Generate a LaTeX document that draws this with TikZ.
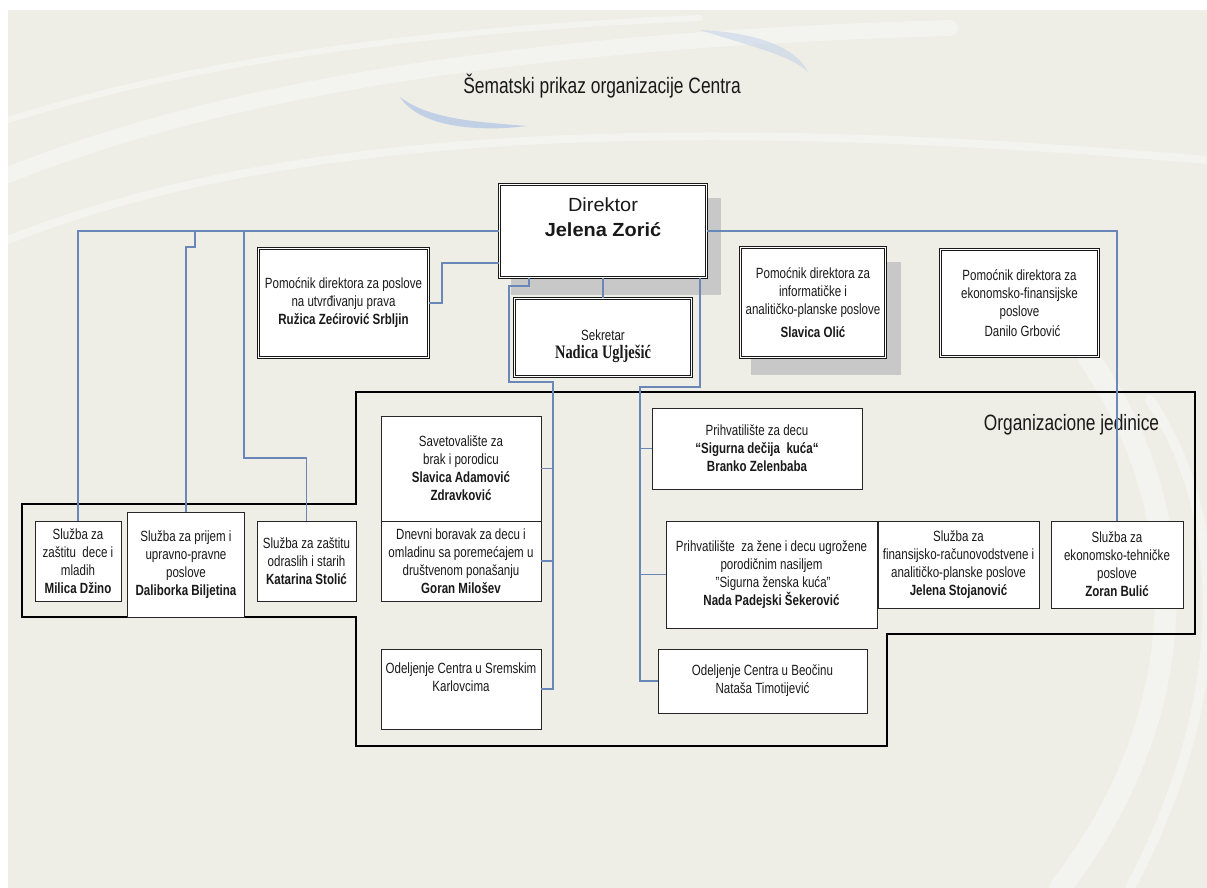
\documentclass[tikz,border=0pt]{standalone}
\usepackage{fontspec}
\setmainfont{Liberation Sans}[FakeStretch=0.78]
\newfontfamily\dirfont{Liberation Sans}[FakeStretch=1.05]
\newfontfamily\namefont{Liberation Serif}[FakeStretch=0.76]
\usetikzlibrary{calc}
\definecolor{bg}{RGB}{238,238,231}
\definecolor{linec}{RGB}{105,136,184}
\definecolor{shad}{RGB}{200,200,200}
\definecolor{swblue}{RGB}{176,196,230}
\newcommand{\smtxt}{\fontsize{14.8}{18}\selectfont}
\begin{document}
\begin{tikzpicture}[x=1pt,y=-1pt,
  box/.style={draw=black!85, line width=0.8pt, fill=white, align=center, inner sep=1pt, font=\smtxt, text=black!90},
  dbox/.style={draw=black!90, line width=0.8pt, double=white, double distance=1.6pt, fill=white, align=center, inner sep=1pt, font=\smtxt, text=black!90},
  conn/.style={draw=linec, line width=1.2pt},
  txt/.style={inner sep=0pt, font=\smtxt, text=black!90},
  swoosh/.style={draw=white, opacity=0.35, line cap=round},
]
\useasboundingbox (0,0) rectangle (1207,888);
% background
\fill[white] (0,0) rectangle (1207,888);
\fill[bg] (8,10) rectangle (1207,888);
\begin{scope}
\clip (8,10) rectangle (1207,888);
\draw[swoosh, line width=16pt] (8,175) .. controls (220,90) and (520,40) .. (950,28);
\draw[swoosh, line width=8pt] (8,240) .. controls (260,140) and (620,110) .. (1207,160);
\draw[swoosh, line width=6pt] (8,120) .. controls (200,60) and (420,30) .. (700,18);
\draw[swoosh, line width=22pt] (1060,888) .. controls (1190,720) and (1200,520) .. (1090,360);
\draw[swoosh, line width=10pt] (1130,888) .. controls (1230,700) and (1230,520) .. (1150,400);
\fill[swblue, opacity=0.7] (400,97) .. controls (420,128) and (480,132) .. (527,126) .. controls (480,122) and (430,120) .. (400,97) -- cycle;
\fill[swblue, opacity=0.4] (700,30) .. controls (750,32) and (795,45) .. (808,72) .. controls (790,55) and (750,46) .. (700,30) -- cycle;
\end{scope}
% title
\node[inner sep=0pt, font=\fontsize{22.3}{26}\selectfont, text=black!90] (title) at (602,86) {Šematski prikaz organizacije Centra};
% shadows
\fill[shad] (511,198) rectangle (721,295);
\fill[shad] (751,262) rectangle (901,375);
% top level
\node[dbox, minimum width=207, minimum height=93] (dir) at (603,231) {};
\node[txt, font=\dirfont\fontsize{19}{21}\selectfont] (dirA) at (603,205) {Direktor};
\node[txt, font=\dirfont\bfseries\fontsize{19}{21}\selectfont] (dirB) at (603,230) {Jelena Zorić};
\node[dbox, minimum width=177, minimum height=78] (sek) at (603,337.5) {};
\node[txt] (sekA) at (603,335) {Sekretar};
\node[txt, font=\namefont\bfseries\fontsize{19}{21}\selectfont] (sekB) at (603,354) {Nadica Uglješić};
\node[dbox, minimum width=170, minimum height=109] (ruz) at (343.5,303) {Pomoćnik direktora za poslove\\na utvrđivanju prava\\\textbf{Ružica Zećirović Srbljin}};
\node[dbox, minimum width=145, minimum height=110] (olic) at (813,302.5) {Pomoćnik direktora za\\informatičke i\\analitičko-planske poslove\\[5pt]\textbf{Slavica Olić}};
\node[dbox, minimum width=158, minimum height=107] (dan) at (1019.5,303) {Pomoćnik direktora za\\ekonomsko-finansijske\\poslove\\[2pt]\hspace*{6pt}Danilo Grbović};
% organizational units outline
\draw[line width=2.8pt, line join=miter] (356,392) -- (1195,392) -- (1195,634) -- (887,634) -- (887,746) -- (356,746) -- (356,617) -- (22,617) -- (22,504) -- (356,504) -- cycle;
\node[inner sep=0pt, font=\fontsize{22.2}{26}\selectfont, text=black!90] (org) at (1071.5,425) {Organizacione jedinice};
% left row
\node[box, minimum width=86, minimum height=80] (mil) at (78,561) {Služba za\\zaštitu\ \ dece i\\mladih\\\textbf{Milica Džino}};
\node[box, minimum width=117, minimum height=105] (dal) at (186,564.5) {Služba za prijem i\\upravno-pravne\\poslove\\\textbf{Daliborka Biljetina}};
\node[box, minimum width=99, minimum height=80] (kat) at (306.5,561) {Služba za zaštitu\\odraslih i starih\\\textbf{Katarina Stolić}};
% middle column
\node[box, minimum width=160, minimum height=105] (sav) at (461,468.5) {Savetovalište za\\brak i porodicu\\\textbf{Slavica Adamović}\\\textbf{Zdravković}};
\node[box, minimum width=160, minimum height=80] (dne) at (461,561) {Dnevni boravak za decu i\\omladinu sa poremećajem u\\društvenom ponašanju\\\textbf{Goran Milošev}};
\node[box, minimum width=160, minimum height=80] (srem) at (461,689) {Odeljenje Centra u Sremskim\\Karlovcima\\\strut};
% right column
\node[box, minimum width=210, minimum height=81] (pdk) at (757,448.5) {Prihvatilište za decu\\\textbf{“Sigurna dečija\ \ kuća“}\\\textbf{Branko Zelenbaba}};
\node[box, minimum width=211, minimum height=107] (nada) at (771.5,574.5) {Prihvatilište\ \ za žene i decu ugrožene\\porodičnim nasiljem\\\ "Sigurna ženska kuća"\\\textbf{Nada Padejski Šekerović}};
\node[box, minimum width=209, minimum height=64] (bec) at (762.5,681) {Odeljenje Centra u Beočinu\\Nataša Timotijević};
\node[box, minimum width=161, minimum height=87] (jel) at (958.5,564.5) {Služba za\\finansijsko-računovodstvene i\\analitičko-planske poslove\\\textbf{Jelena Stojanović}};
\node[box, minimum width=132, minimum height=87] (zor) at (1117,564.5) {Služba za\\ekonomsko-tehničke\\poslove\\\textbf{Zoran Bulić}};
% connectors
\coordinate (b2) at (195,231);
\coordinate (b3) at (244,231);
\coordinate (vl) at (553,382);
\coordinate (vr) at (640,387);
\draw[conn] (dir.west) -| (mil.north);
\draw[conn] (b2) -- (195,247) -| (dal.north);
\draw[conn] (b3) -- (244,458) -| (kat.north);
\draw[conn] (ruz.east) -- ++(13,0) |- ($(dir.west)+(0,32)$);
\draw[conn] (dir.south) -- (sek.north);
\draw[conn] ($(dir.south)+(-74,0)$) |- (509,286) |- (vl) |- (srem.east);
\draw[conn] (sav.east) -- (sav.east -| vl);
\draw[conn] (dne.east) -- (dne.east -| vl);
\draw[conn] ($(dir.south)+(97,0)$) |- (vr) |- (bec.west);
\draw[conn] (pdk.west) -- (pdk.west -| vr);
\draw[conn] (nada.west) -- (nada.west -| vr);
\draw[conn] (dir.east) -| (zor.north);
\end{tikzpicture}
\end{document}
